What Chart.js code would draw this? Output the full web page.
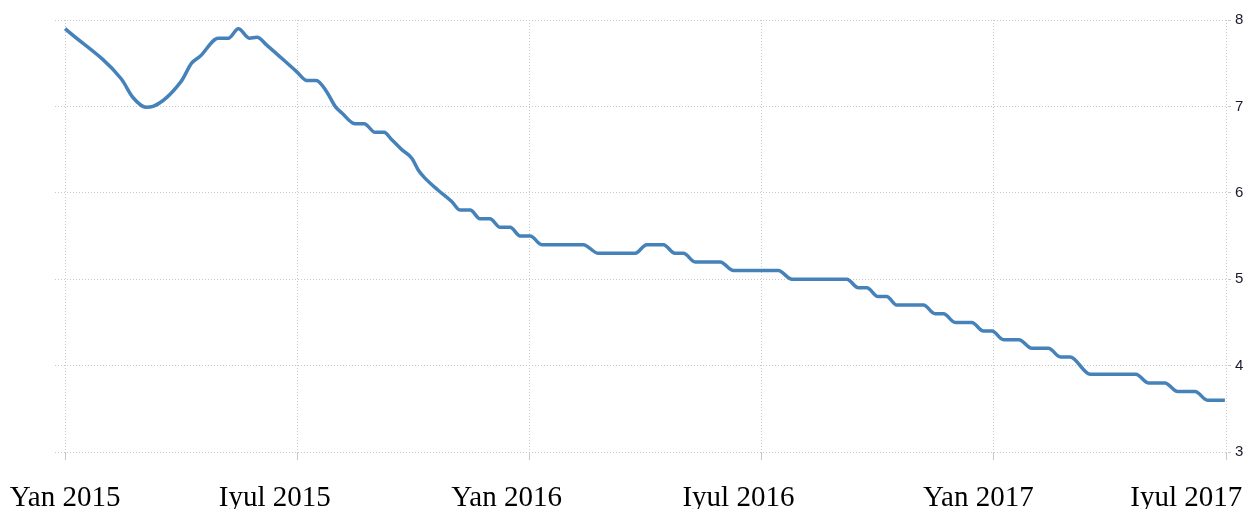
<!DOCTYPE html>
<html><head><meta charset="utf-8">
<script src="https://cdn.jsdelivr.net/npm/chart.js@4.4.1/dist/chart.umd.min.js"></script>
<style>html,body{margin:0;padding:0;background:#fff;overflow:hidden}#wrap{width:1248px;height:509px}</style>
</head><body><div id="wrap"><canvas id="c" width="1248" height="509"></canvas></div>
<script>
// x values in months since Jan 2015
const months = [0, 1.45, 1.76, 2.09, 2.27, 3.00, 3.27, 3.49, 3.96, 4.22, 4.48, 4.76, 4.96, 5.21, 5.99, 6.25, 6.49, 6.76, 6.98, 7.16, 7.49, 7.73, 8.01, 8.24, 8.45, 8.70, 8.96, 9.13, 9.30, 9.64, 9.99, 10.21, 10.47, 10.72, 10.98, 11.24, 11.50, 11.76, 12.02, 12.32, 13.39, 13.78, 14.73, 15.03, 15.46, 15.76, 15.98, 16.28, 16.93, 17.27, 18.43, 18.78, 20.20, 20.50, 20.72, 21.00, 21.23, 21.49, 22.18, 22.48, 22.70, 23.00, 23.43, 23.73, 23.95, 24.25, 24.65, 24.98, 25.41, 25.72, 25.97, 26.49, 27.67, 27.99, 28.42, 28.75, 29.20, 29.52, 29.97];
const values = [7.9, 7.32, 7.1, 6.99, 7.0, 7.29, 7.5, 7.58, 7.79, 7.79, 7.9, 7.79, 7.8, 7.71, 7.4, 7.3, 7.3, 7.17, 7.0, 6.92, 6.8, 6.8, 6.7, 6.7, 6.61, 6.5, 6.4, 6.26, 6.17, 6.03, 5.9, 5.8, 5.8, 5.7, 5.7, 5.6, 5.6, 5.5, 5.5, 5.4, 5.4, 5.3, 5.3, 5.4, 5.4, 5.3, 5.3, 5.2, 5.2, 5.1, 5.1, 5.0, 5.0, 4.9, 4.9, 4.8, 4.8, 4.7, 4.7, 4.6, 4.6, 4.5, 4.5, 4.4, 4.4, 4.3, 4.3, 4.2, 4.2, 4.1, 4.1, 3.9, 3.9, 3.8, 3.8, 3.7, 3.7, 3.6, 3.6];
const gridMonths = [0, 6, 12, 18, 24, 30];
const labelMonths = [0, 5.42, 11.41, 17.40, 23.60, 28.97];
const labelTexts = ['Yan 2015', 'Iyul 2015', 'Yan 2016', 'Iyul 2016', 'Yan 2017', 'Iyul 2017'];
const yTicks = [3, 4, 5, 6, 7, 8];

const xMin = -0.26, xMax = 30.05;
const gridColor = '#c8c8c8';
const noPad = s => { s.paddingLeft = 0; s.paddingRight = 0; s.paddingTop = 0; s.paddingBottom = 0; };

new Chart(document.getElementById('c'), {
  type: 'line',
  data: {
    datasets: [{
      data: months.map((m, i) => ({x: m, y: values[i]})),
      borderColor: '#4682ba',
      borderWidth: 3.5,
      pointRadius: 0,
      cubicInterpolationMode: 'monotone',
      fill: false
    }]
  },
  options: {
    responsive: false,
    animation: false,
    events: [],
    layout: {padding: {left: 55, top: 20, right: 0, bottom: 0}},
    plugins: {legend: {display: false}, tooltip: {enabled: false}},
    scales: {
      x: {
        type: 'linear', position: 'bottom', min: xMin, max: xMax, weight: 0,
        afterBuildTicks: s => { s.ticks = gridMonths.map(v => ({value: v})); },
        afterFit: s => { s.height = 8; noPad(s); },
        ticks: {display: false},
        grid: {color: gridColor, lineWidth: 1, drawTicks: true, tickLength: 8},
        border: {display: false, dash: [1, 2]}
      },
      x2: {
        type: 'linear', axis: 'x', position: 'bottom', min: xMin, max: xMax, weight: 1,
        afterBuildTicks: s => { s.ticks = labelMonths.map(v => ({value: v})); },
        afterFit: s => { s.height = 49; noPad(s); },
        ticks: {
          autoSkip: false, maxRotation: 0, minRotation: 0, padding: 21,
          font: {family: 'Liberation Serif', size: 29},
          color: '#000',
          callback: (v, i) => labelTexts[i]
        },
        grid: {display: false, drawTicks: false},
        border: {display: false}
      },
      y: {
        position: 'right', min: 3, max: 8,
        afterBuildTicks: s => { s.ticks = yTicks.map(v => ({value: v})); },
        afterFit: s => { s.width = 20; noPad(s); },
        ticks: {padding: 4, font: {family: 'Liberation Sans', size: 15}, color: '#1a1a2a'},
        grid: {color: gridColor, lineWidth: 1, drawTicks: true, tickLength: 3},
        border: {display: false, dash: [1, 2]}
      }
    }
  }
});
</script>
</body></html>
